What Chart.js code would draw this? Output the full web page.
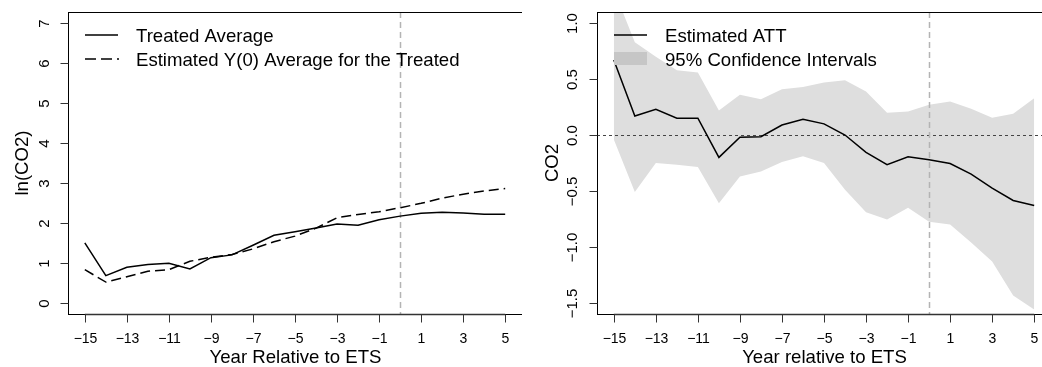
<!DOCTYPE html>
<html>
<head>
<meta charset="utf-8">
<script src="https://cdn.jsdelivr.net/npm/chart.js@4.4.1/dist/chart.umd.min.js"></script>
<style>
  html, body { margin: 0; padding: 0; background: #fff; overflow: hidden; width: 1042px; height: 367px; }
  #c1 { position: absolute; left: 0; top: 0; }
  #c2 { position: absolute; left: 522px; top: 0; }
</style>
</head>
<body>
<canvas id="c1" width="522" height="367"></canvas>
<canvas id="c2" width="540" height="367"></canvas>
<script>
// ---- data ----
const years = [-15, -14, -13, -12, -11, -10, -9, -8, -7, -6, -5, -4, -3, -2, -1, 0, 1, 2, 3, 4, 5];
const treatedAvg = [1.50, 0.68, 0.89, 0.96, 0.99, 0.85, 1.13, 1.20, 1.44, 1.69, 1.78, 1.87, 1.97, 1.94, 2.08, 2.17, 2.24, 2.27, 2.25, 2.22, 2.22];
const y0Avg = [0.83, 0.52, 0.65, 0.79, 0.83, 1.04, 1.14, 1.21, 1.35, 1.53, 1.67, 1.87, 2.13, 2.21, 2.28, 2.38, 2.49, 2.62, 2.72, 2.80, 2.86];
const att = [0.67, 0.17, 0.23, 0.15, 0.15, -0.20, -0.02, -0.015, 0.09, 0.14, 0.10, 0.0, -0.155, -0.265, -0.195, -0.22, -0.255, -0.35, -0.475, -0.585, -0.63];
const ciUpper = [1.30, 0.83, 0.70, 0.58, 0.56, 0.22, 0.36, 0.32, 0.41, 0.43, 0.47, 0.49, 0.39, 0.20, 0.21, 0.27, 0.30, 0.235, 0.155, 0.19, 0.33];
const ciLower = [-0.04, -0.51, -0.25, -0.265, -0.285, -0.61, -0.37, -0.325, -0.24, -0.19, -0.25, -0.49, -0.69, -0.755, -0.65, -0.775, -0.80, -0.96, -1.13, -1.435, -1.56];

const xTicks = [-15, -13, -11, -9, -7, -5, -3, -1, 1, 3, 5];
const xTickLabels = ['\u221215', '\u221213', '\u221211', '\u22129', '\u22127', '\u22125', '\u22123', '\u22121', '1', '3', '5'];
const leftYTicks = [0, 1, 2, 3, 4, 5, 6, 7];
const leftYTickLabels = ['0', '1', '2', '3', '4', '5', '6', '7'];
const rightYTicks = [-1.5, -1.0, -0.5, 0.0, 0.5, 1.0];
const rightYTickLabels = ['\u22121.5', '\u22121.0', '\u22120.5', '0.0', '0.5', '1.0'];

const leftLegend = ['Treated Average', 'Estimated Y(0) Average for the Treated'];
const rightLegend = ['Estimated ATT', '95% Confidence Intervals'];
const leftXTitle = 'Year Relative to ETS';
const rightXTitle = 'Year relative to ETS';
const leftYTitle = 'ln(CO2)';
const rightYTitle = 'CO2';
const treatmentYear = 0;

// ---- helpers ----
const FONT = '"Liberation Sans", Arial, Helvetica, sans-serif';
const pts = (vals) => years.map((x, i) => ({ x: x, y: vals[i] }));

function vtext(ctx, text, x, y) {
  ctx.save();
  ctx.translate(x, y);
  ctx.rotate(-Math.PI / 2);
  ctx.textAlign = 'center';
  ctx.textBaseline = 'alphabetic';
  ctx.fillText(text, 0, 0);
  ctx.restore();
}

function makeAxesPlugin(cfg) {
  function drawRefs(chart) {
    const ctx = chart.ctx, a = chart.chartArea;
    const xs = chart.scales.x, ys = chart.scales.y;
    ctx.save();
    ctx.beginPath();
    ctx.rect(a.left, a.top, a.right - a.left, a.bottom - a.top);
    ctx.clip();
    if (cfg.zeroLine) {
      const y0 = Math.round(ys.getPixelForValue(0)) + 0.5;
      ctx.strokeStyle = '#444';
      ctx.lineWidth = 1;
      ctx.setLineDash([3, 3]);
      ctx.beginPath();
      ctx.moveTo(a.left, y0);
      ctx.lineTo(a.right, y0);
      ctx.stroke();
    }
    const xv = Math.round(xs.getPixelForValue(treatmentYear)) + 0.5;
    ctx.strokeStyle = '#b4b4b4';
    ctx.lineWidth = 1.5;
    ctx.setLineDash([6, 4]);
    ctx.beginPath();
    ctx.moveTo(xv, a.top);
    ctx.lineTo(xv, a.bottom);
    ctx.stroke();
    ctx.restore();
  }
  return {
    id: 'axesPlugin',
    beforeDatasetsDraw(chart) {
      if (cfg.refIndex === -1) drawRefs(chart);
    },
    afterDatasetDraw(chart, args) {
      if (args.index === cfg.refIndex) drawRefs(chart);
    },
    afterDraw(chart) {
      const ctx = chart.ctx, a = chart.chartArea;
      const xs = chart.scales.x, ys = chart.scales.y;
      ctx.save();
      ctx.setLineDash([]);
      // box
      ctx.strokeStyle = '#000';
      ctx.lineWidth = 1;
      ctx.strokeRect(Math.round(a.left) + 0.5, Math.round(a.top) + 0.5,
        Math.round(a.right - a.left), Math.round(a.bottom - a.top));
      // x axis line (first to last tick)
      const bottom = Math.round(a.bottom) + 0.5;
      ctx.strokeStyle = '#333';
      ctx.lineWidth = 1.6;
      ctx.beginPath();
      ctx.moveTo(xs.getPixelForValue(xTicks[0]), bottom);
      ctx.lineTo(xs.getPixelForValue(xTicks[xTicks.length - 1]), bottom);
      ctx.stroke();
      // x ticks
      ctx.strokeStyle = '#333';
      ctx.lineWidth = 1;
      ctx.fillStyle = '#000';
      ctx.font = '14px ' + FONT;
      ctx.textAlign = 'center';
      ctx.textBaseline = 'alphabetic';
      xTicks.forEach((v, i) => {
        const px = Math.round(xs.getPixelForValue(v)) + 0.5;
        ctx.beginPath();
        ctx.moveTo(px, bottom);
        ctx.lineTo(px, bottom + 8);
        ctx.stroke();
        ctx.fillText(xTickLabels[i], px, a.bottom + 29);
      });
      // y ticks
      ctx.font = '15px ' + FONT;
      const left = Math.round(a.left) + 0.5;
      cfg.yTicks.forEach((v, i) => {
        const py = Math.round(ys.getPixelForValue(v)) + 0.5;
        ctx.beginPath();
        ctx.moveTo(left, py);
        ctx.lineTo(left - 8, py);
        ctx.stroke();
        vtext(ctx, cfg.yTickLabels[i], a.left - cfg.yLabelOffset, py);
      });
      // titles
      ctx.font = '18.6px ' + FONT;
      ctx.textAlign = 'center';
      ctx.fillText(cfg.xTitle, (xs.getPixelForValue(xTicks[0]) + xs.getPixelForValue(xTicks[xTicks.length - 1])) / 2 + 0.5, 363);
      vtext(ctx, cfg.yTitle, a.left - cfg.yTitleOffset, (a.top + a.bottom) / 2);
      // legend
      const lx0 = a.left + 17, lx1 = a.left + 50, tx = a.left + 68;
      ctx.textAlign = 'left';
      ctx.strokeStyle = '#000';
      ctx.lineWidth = 1.5;
      ctx.setLineDash([]);
      ctx.beginPath();
      ctx.moveTo(lx0, 35); ctx.lineTo(lx1, 35); ctx.stroke();
      ctx.fillText(cfg.legend[0], tx, 41.5);
      if (cfg.legendType === 'dash') {
        ctx.setLineDash([11, 5]);
        ctx.beginPath();
        ctx.moveTo(lx0, 59); ctx.lineTo(lx1 + 1, 59); ctx.stroke();
        ctx.setLineDash([]);
      } else {
        ctx.fillStyle = '#c6c6c6';
        ctx.fillRect(lx0, 52, lx1 - lx0, 13);
        ctx.fillStyle = '#000';
      }
      ctx.fillText(cfg.legend[1], tx, 65.5);
      ctx.restore();
    }
  };
}

function scalesFor(yMin, yMax, yWidth, yTicks) {
  return {
    x: {
      type: 'linear', min: -15.8, max: 5.8,
      afterBuildTicks: (s) => { s.ticks = xTicks.map(v => ({ value: v })); },
      ticks: { display: false }, grid: { display: false }, border: { display: false },
      afterFit: (s) => { s.height = 53; }
    },
    y: {
      type: 'linear', min: yMin, max: yMax,
      afterBuildTicks: (s) => { s.ticks = yTicks.map(v => ({ value: v })); },
      ticks: { display: false }, grid: { display: false }, border: { display: false },
      afterFit: (s) => { s.width = yWidth; }
    }
  };
}

const common = {
  responsive: false,
  animation: false,
  devicePixelRatio: 1,
  plugins: { legend: { display: false }, tooltip: { enabled: false } },
  elements: { point: { radius: 0 }, line: { tension: 0 } }
};

// ---- left chart ----
new Chart(document.getElementById('c1'), {
  type: 'line',
  data: {
    datasets: [
      { label: leftLegend[0], data: pts(treatedAvg), borderColor: '#000', borderWidth: 1.5, fill: false },
      { label: leftLegend[1], data: pts(y0Avg), borderColor: '#000', borderWidth: 1.5, borderDash: [10, 5], fill: false }
    ]
  },
  options: Object.assign({}, common, {
    layout: { padding: { top: 12, right: 0, left: 0, bottom: 0 } },
    scales: scalesFor(-0.28, 7.28, 68, leftYTicks)
  }),
  plugins: [makeAxesPlugin({
    refIndex: -1, zeroLine: false,
    yTicks: leftYTicks, yTickLabels: leftYTickLabels, yLabelOffset: 19, yTitleOffset: 40,
    xTitle: leftXTitle, yTitle: leftYTitle, legend: leftLegend, legendType: 'dash'
  })]
});

// ---- right chart ----
new Chart(document.getElementById('c2'), {
  type: 'line',
  data: {
    datasets: [
      { label: rightLegend[0], data: pts(att), borderColor: '#000', borderWidth: 1.5, fill: false },
      { label: 'upper', data: pts(ciUpper), borderColor: 'rgba(0,0,0,0)', borderWidth: 0, backgroundColor: '#dedede', fill: '+1' },
      { label: 'lower', data: pts(ciLower), borderColor: 'rgba(0,0,0,0)', borderWidth: 0, fill: false }
    ]
  },
  options: Object.assign({}, common, {
    layout: { padding: { top: 12, right: 11, left: 0, bottom: 0 } },
    scales: scalesFor(-1.6, 1.1, 75, rightYTicks)
  }),
  plugins: [makeAxesPlugin({
    refIndex: 1, zeroLine: true,
    yTicks: rightYTicks, yTickLabels: rightYTickLabels, yLabelOffset: 20.5, yTitleOffset: 39,
    xTitle: rightXTitle, yTitle: rightYTitle, legend: rightLegend, legendType: 'box'
  })]
});
</script>
</body>
</html>
